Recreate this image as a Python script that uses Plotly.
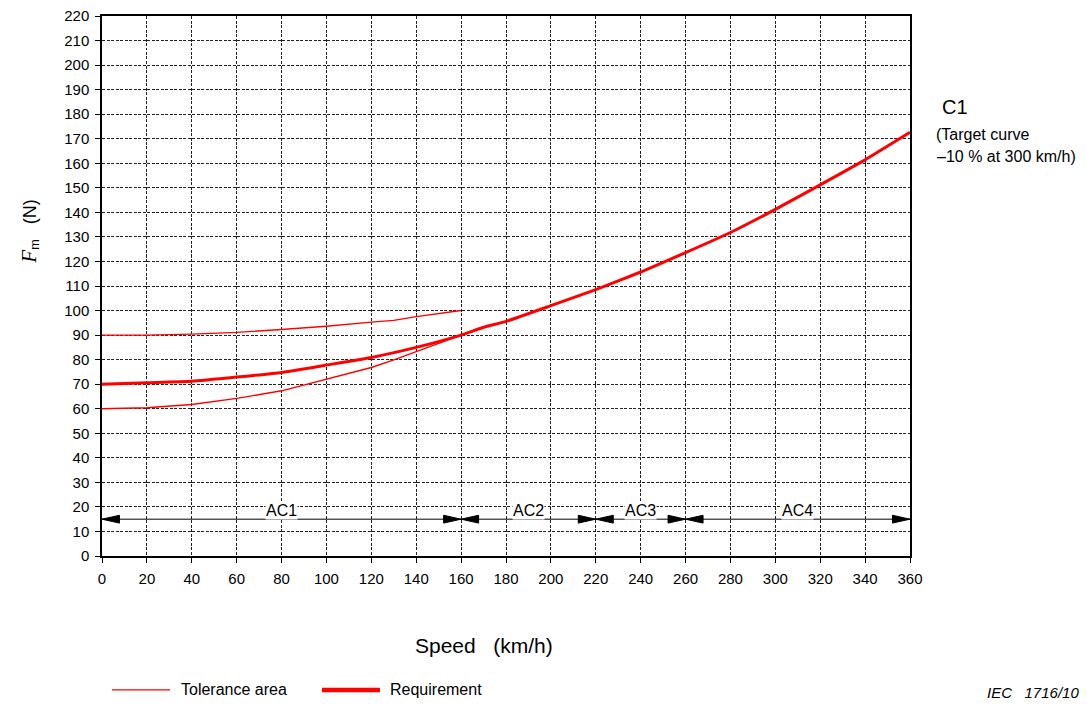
import plotly.graph_objects as go

# ---------------- data ----------------
speed_req = [0, 20, 40, 60, 80, 100, 120, 140, 160, 170, 180, 200, 220, 240, 260, 280, 300, 320, 340, 360]
force_req = [70, 70.6, 71.2, 72.9, 74.8, 77.8, 80.9, 85.0, 90.0, 93.2, 95.6, 102.0, 108.5, 115.7, 123.6, 131.8, 141.2, 151.2, 161.4, 172.6]

speed_tol = [0, 20, 40, 50, 60, 80, 100, 120, 130, 140, 160]
force_tol_upper = [90, 90, 90.4, 90.6, 91.1, 92.3, 93.6, 95.3, 96.0, 97.5, 100]
force_tol_lower = [60, 60.4, 61.7, 62.8, 64.2, 67.3, 72.0, 76.8, 79.9, 83.3, 90]

zone_names = ["AC1", "AC2", "AC3", "AC4"]
zone_start = [0, 160, 220, 260]
zone_end = [160, 220, 260, 360]
zone_label_x = [80, 190, 240, 310]
zone_arrow_y = 15
zone_label_y = 18.6

x_ticks = list(range(0, 361, 20))
y_ticks = list(range(0, 221, 10))

legend_names = ["Tolerance area", "Requirement"]

# ---------------- style ----------------
RED = "#ff0000"
FONT = "Liberation Sans, Arial, sans-serif"
HEAD_LEN = 7.8    # km/h units
HEAD_HALF = 1.6   # N units
TOL_W = 1.4
REQ_W = 3

fig = go.Figure()

fig.add_trace(go.Scatter(x=speed_tol, y=force_tol_upper, mode="lines",
                         line=dict(color=RED, width=TOL_W), name=legend_names[0],
                         showlegend=False, hoverinfo="skip"))
fig.add_trace(go.Scatter(x=speed_tol, y=force_tol_lower, mode="lines",
                         line=dict(color=RED, width=TOL_W), name=legend_names[0],
                         showlegend=False, hoverinfo="skip"))
fig.add_trace(go.Scatter(x=speed_req, y=force_req, mode="lines",
                         line=dict(color=RED, width=REQ_W, shape="spline", smoothing=0.4),
                         name=legend_names[1], showlegend=False, hoverinfo="skip"))

shapes = []
# horizontal zone line
shapes.append(dict(type="line", xref="x", yref="y", x0=zone_start[0], x1=zone_end[-1],
                   y0=zone_arrow_y, y1=zone_arrow_y, line=dict(color="black", width=1)))
for s, e in zip(zone_start, zone_end):
    p1 = f"M{s},{zone_arrow_y} L{s + HEAD_LEN},{zone_arrow_y + HEAD_HALF} L{s + HEAD_LEN},{zone_arrow_y - HEAD_HALF} Z"
    p2 = f"M{e},{zone_arrow_y} L{e - HEAD_LEN},{zone_arrow_y + HEAD_HALF} L{e - HEAD_LEN},{zone_arrow_y - HEAD_HALF} Z"
    for p in (p1, p2):
        shapes.append(dict(type="path", xref="x", yref="y", path=p,
                           fillcolor="black", line=dict(color="black", width=1)))

# custom legend (paper coordinates)
LEG_Y = -0.248
shapes.append(dict(type="line", xref="paper", yref="paper", x0=0.0124, x1=0.0842,
                   y0=LEG_Y, y1=LEG_Y, line=dict(color=RED, width=TOL_W)))
shapes.append(dict(type="line", xref="paper", yref="paper", x0=0.2723, x1=0.344,
                   y0=LEG_Y, y1=LEG_Y, line=dict(color=RED, width=4.5)))

annotations = []
for name, lx in zip(zone_names, zone_label_x):
    annotations.append(dict(x=lx, y=zone_label_y, xref="x", yref="y", text=name,
                            showarrow=False, bgcolor="white", borderpad=0,
                            font=dict(family=FONT, size=16, color="black")))

annotations += [
    dict(xref="paper", yref="paper", x=0.0955, y=LEG_Y, xanchor="left", yanchor="middle",
         text=legend_names[0], showarrow=False, font=dict(family=FONT, size=16, color="black")),
    dict(xref="paper", yref="paper", x=0.354, y=LEG_Y, xanchor="left", yanchor="middle",
         text=legend_names[1], showarrow=False, font=dict(family=FONT, size=16, color="black")),
    dict(xref="paper", yref="paper", x=1.037, y=0.831, xanchor="left", yanchor="middle",
         text="C1", showarrow=False, font=dict(family=FONT, size=20, color="black")),
    dict(xref="paper", yref="paper", x=1.0297, y=0.78, xanchor="left", yanchor="middle",
         text="(Target curve", showarrow=False, font=dict(family=FONT, size=16, color="black")),
    dict(xref="paper", yref="paper", x=1.031, y=0.739, xanchor="left", yanchor="middle",
         text="\u201310 % at 300 km/h)", showarrow=False, font=dict(family=FONT, size=16, color="black")),
    dict(xref="paper", yref="paper", x=-0.0895, y=0.6, xanchor="center", yanchor="middle",
         textangle=-90, showarrow=False,
         text="<span style='font-family:Liberation Serif, Times New Roman, serif;font-size:21px'><i>F</i></span><sub>m</sub>&nbsp;&nbsp;&nbsp;(N)",
         font=dict(family=FONT, size=18, color="black")),
    dict(xref="paper", yref="paper", x=0.473, y=-0.165, xanchor="center", yanchor="middle",
         text="Speed&nbsp;&nbsp;&nbsp;(km/h)", showarrow=False, font=dict(family=FONT, size=21, color="black")),
    dict(xref="paper", yref="paper", x=1.2116, y=-0.252, xanchor="right", yanchor="middle",
         text="<i>IEC&nbsp;&nbsp;&nbsp;1716/10</i>", showarrow=False, font=dict(family=FONT, size=15, color="black")),
]

axis_common = dict(showline=True, linecolor="black", linewidth=1.5, mirror=True,
                   ticks="outside", tickcolor="black", tickwidth=1, ticklen=5,
                   ticklabelstandoff=3, ticklabeloverflow="allow",
                   showgrid=True, gridcolor="#222", gridwidth=1, griddash="3px,1.5px",
                   zeroline=False, tickfont=dict(family=FONT, size=15, color="black"))

fig.update_layout(
    width=1087, height=705,
    margin=dict(l=102, r=177, t=16, b=149, autoexpand=False),
    plot_bgcolor="white", paper_bgcolor="white",
    xaxis=dict(range=[0, 360], tickvals=x_ticks, **axis_common),
    yaxis=dict(range=[0, 220], tickvals=y_ticks, **axis_common),
    shapes=shapes, annotations=annotations,
    showlegend=False,
)

# remove the default 8px page margin so the figure fills the window exactly
fig.write_html("out.html",
               config={"displayModeBar": False},
               post_script="document.body.style.margin='0';document.body.style.overflow='hidden';")
